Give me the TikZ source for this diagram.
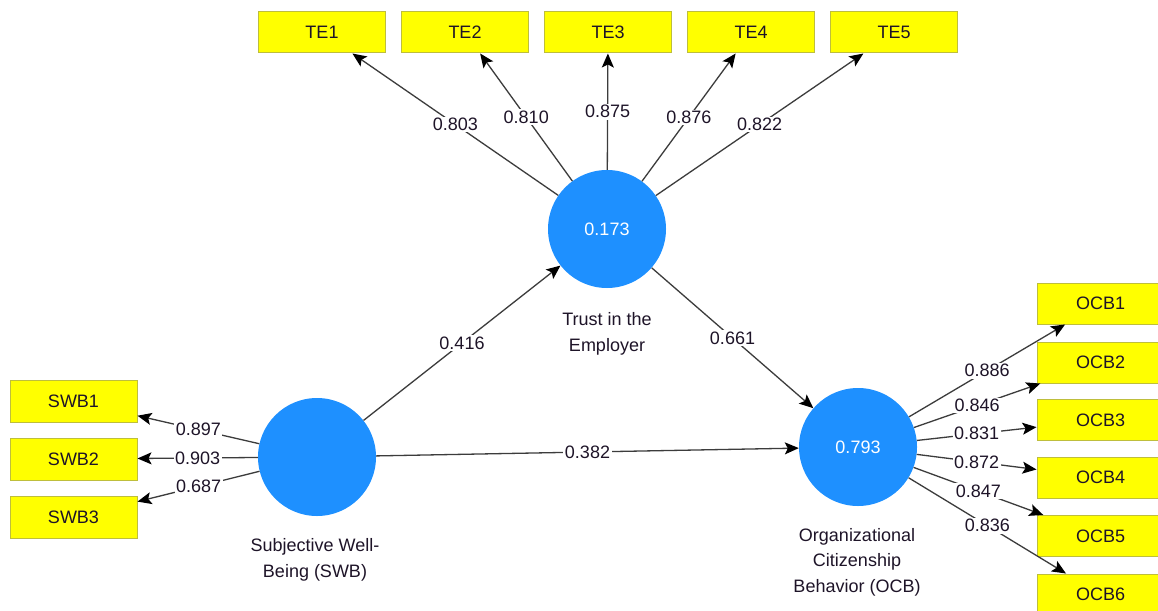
\documentclass[tikz,border=0pt]{standalone}
\usepackage{fontspec}
\setmainfont{Liberation Sans}
\usetikzlibrary{arrows.meta}
\definecolor{lvblue}{RGB}{30,144,255}
\definecolor{mvyellow}{RGB}{255,255,0}
\definecolor{mvborder}{RGB}{190,190,60}
\definecolor{linegray}{RGB}{60,60,60}
\definecolor{txt}{RGB}{30,20,40}
\begin{document}
\begin{tikzpicture}[x=1pt,y=-1pt,
  font=\fontsize{18}{25.5}\selectfont,
  lv/.style={circle,fill=lvblue,draw=none,minimum size=118pt,inner sep=0pt,text=white},
  mv/.style={rectangle,fill=mvyellow,draw=mvborder,line width=1pt,minimum width=127pt,minimum height=41pt,inner sep=0pt,text=txt},
  arr/.style={draw=linegray,line width=1.3pt,-{Stealth[length=14pt,width=12pt,inset=3pt,color=black]}},
  lbl/.style={fill=white,inner sep=1.5pt,text=txt,midway},
  lvcaption/.style={align=center,text=txt}
]
\clip (0,0) rectangle (1158,610);
\fill[white] (0,0) rectangle (1158,610);

% latent variables
\node[lv] (TE) at (607,229) {0.173};
\node[lv] (SWB) at (317,457) {};
\node[lv] (OCB) at (858,447) {0.793};

\node[lvcaption] (TEcap) at (607,334) {Trust in the\\Employer};
\node[lvcaption] (SWBcap) at (315,560) {Subjective Well-\\Being (SWB)};
\node[lvcaption] (OCBcap) at (857,562) {Organizational\\Citizenship\\Behavior (OCB)};

% indicators TE
\node[mv] (TE1) at (322,32.5) {TE1};
\node[mv] (TE2) at (465,32.5) {TE2};
\node[mv] (TE3) at (608,32.5) {TE3};
\node[mv] (TE4) at (751,32.5) {TE4};
\node[mv] (TE5) at (894,32.5) {TE5};

% indicators SWB
\node[mv,minimum height=42pt] (SWB1) at (73.5,401) {SWB1};
\node[mv,minimum height=42pt] (SWB2) at (73.5,459) {SWB2};
\node[mv,minimum height=42pt] (SWB3) at (73.5,517.5) {SWB3};

% indicators OCB
\node[mv] (OCB1) at (1100.5,303.5) {OCB1};
\node[mv] (OCB2) at (1100.5,362.5) {OCB2};
\node[mv] (OCB3) at (1100.5,420) {OCB3};
\node[mv] (OCB4) at (1100.5,477.5) {OCB4};
\node[mv] (OCB5) at (1100.5,536) {OCB5};
\node[mv] (OCB6) at (1100.5,594.5) {OCB6};

% outer loadings TE
\draw[arr] (TE) -- node[lbl]{0.803} (TE1);
\draw[arr] (TE) -- node[lbl]{0.810} (TE2);
\draw[arr] (TE) -- node[lbl]{0.875} (TE3);
\draw[arr] (TE) -- node[lbl]{0.876} (TE4);
\draw[arr] (TE) -- node[lbl]{0.822} (TE5);

% outer loadings SWB
\draw[arr] (SWB) -- node[lbl]{0.897} (SWB1);
\draw[arr] (SWB) -- node[lbl]{0.903} (SWB2);
\draw[arr] (SWB) -- node[lbl]{0.687} (SWB3);

% outer loadings OCB
\draw[arr] (OCB) -- node[lbl]{0.886} (OCB1);
\draw[arr] (OCB) -- node[lbl]{0.846} (OCB2);
\draw[arr] (OCB) -- node[lbl]{0.831} (OCB3);
\draw[arr] (OCB) -- node[lbl]{0.872} (OCB4);
\draw[arr] (OCB) -- node[lbl]{0.847} (OCB5);
\draw[arr] (OCB) -- node[lbl]{0.836} (OCB6);

% structural paths
\draw[arr] (SWB) -- node[lbl]{0.416} (TE);
\draw[arr] (TE) -- node[lbl]{0.661} (OCB);
\draw[arr] (SWB) -- node[lbl]{0.382} (OCB);
\end{tikzpicture}
\end{document}
